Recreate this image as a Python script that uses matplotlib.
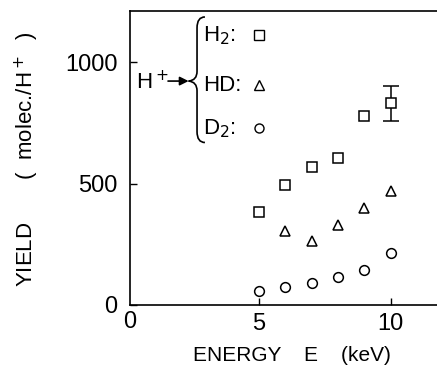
import matplotlib.pyplot as plt
from matplotlib.path import Path
from matplotlib.patches import PathPatch

plt.rcParams['font.family'] = ['Liberation Sans', 'DejaVu Sans']

# datos
energy = [5, 6, 7, 8, 9, 10]
h2_yield = [384, 495, 567, 606, 778, 830]
hd_energy = [6, 7, 8, 9, 10]
hd_yield = [306, 262, 330, 400, 471]
d2_yield = [58, 76, 90, 116, 145, 212]
h2_err_x = [10]
h2_err_y = [830]
h2_err_lo = [73]
h2_err_hi = [72]

# leyenda dibujada a mano
key_labels = ["H$_2$:", "HD:", "D$_2$:"]
key_y = [1110, 905, 727]
key_markers = ["s", "^", "o"]

fig = plt.figure(figsize=(4.37, 3.71), dpi=100)
ax = fig.add_axes([0.297, 0.178, 0.703, 0.792])

ms = 7
ax.plot(energy, h2_yield, 's', ms=ms, mfc='white', mec='black', mew=1.1)
ax.errorbar(h2_err_x, h2_err_y, yerr=[h2_err_lo, h2_err_hi], fmt='none',
            ecolor='black', elinewidth=1.1, capsize=6, capthick=1.1, zorder=1)
ax.plot(hd_energy, hd_yield, '^', ms=ms, mfc='white', mec='black', mew=1.1)
ax.plot(energy, d2_yield, 'o', ms=ms, mfc='white', mec='black', mew=1.1)

for lab, y, m in zip(key_labels, key_y, key_markers):
    ax.text(2.88, y, lab, fontsize=16, va='center', ha='left')
    ax.plot(5, y, m, ms=6.5, mfc='white', mec='black', mew=1.0)

# llave
bx, tip, top, bot, ym = 2.65, 2.33, 1186, 669, 922
verts = [(bx + 0.3, top), (bx, top), (bx, top - 45), (bx, ym + 40),
         (bx, ym + 3), (tip, ym),
         (tip, ym), (bx, ym - 3), (bx, ym - 40),
         (bx, bot + 45), (bx, bot), (bx + 0.3, bot)]
codes = [Path.MOVETO, Path.CURVE3, Path.CURVE3, Path.LINETO,
         Path.CURVE3, Path.CURVE3,
         Path.MOVETO, Path.CURVE3, Path.CURVE3,
         Path.LINETO, Path.CURVE3, Path.CURVE3]
ax.add_patch(PathPatch(Path(verts, codes), fill=False, lw=1.2, color='black'))

ax.text(0.32, 918, "H$^+$", fontsize=16, va='center', ha='left')
ax.annotate("", xy=(tip, ym), xytext=(1.55, ym),
            arrowprops=dict(arrowstyle='-|>', color='black', lw=1.2,
                            mutation_scale=13, shrinkA=0, shrinkB=0))

ax.set_xlim(0.1, 11.75)
ax.set_ylim(0, 1210)
ax.set_xticks([5, 10])
ax.set_yticks([0, 500, 1000])
ax.tick_params(direction='in', length=5, width=1, labelsize=17)
ax.tick_params(axis='y', pad=9)
ax.tick_params(axis='x', pad=6)
ax.spines['right'].set_visible(False)
for s in ['left', 'bottom', 'top']:
    ax.spines[s].set_linewidth(1.2)

fig.text(0.297, 0.132, "0", fontsize=17, ha='center', va='center')
fig.text(0.668, 0.043, "ENERGY    E    (keV)", fontsize=15, ha='center', va='center')
fig.text(0.062, 0.571, "YIELD       (  molec./H$^+$  )", fontsize=16,
         rotation=90, ha='center', va='center')

fig.savefig("out.png", dpi=100)
